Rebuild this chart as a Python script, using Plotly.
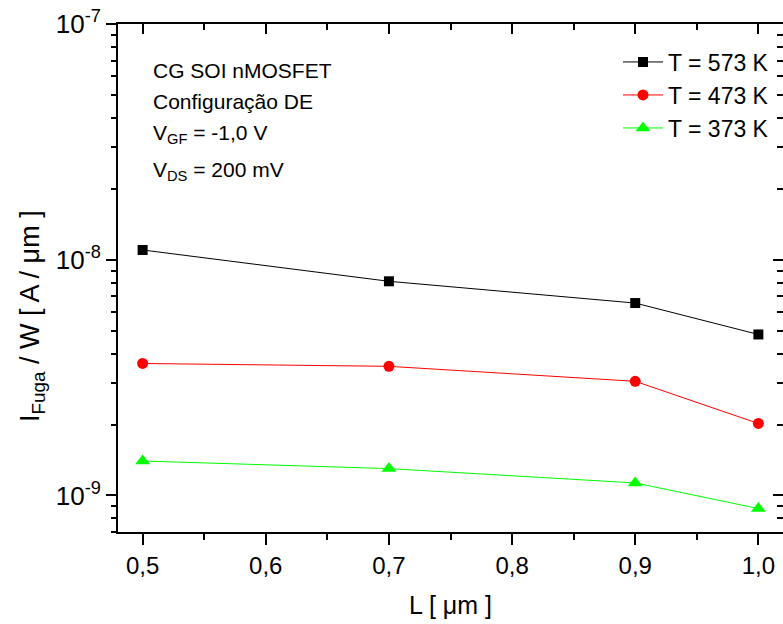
import plotly.graph_objects as go

# ---- data ----
L_um = [0.5, 0.7, 0.9, 1.0]
I_573 = [1.10e-8, 8.1e-9, 6.55e-9, 4.82e-9]
I_473 = [3.63e-9, 3.53e-9, 3.05e-9, 2.02e-9]
I_373 = [1.40e-9, 1.30e-9, 1.13e-9, 0.88e-9]
series_names = ["T = 573 K", "T = 473 K", "T = 373 K"]

x_tickvals = [0.5, 0.6, 0.7, 0.8, 0.9, 1.0]
x_ticktext = ["0,5", "0,6", "0,7", "0,8", "0,9", "1,0"]
x_minor = [0.55, 0.65, 0.75, 0.85, 0.95]
y_tickvals = [1e-9, 1e-8, 1e-7]
y_ticktext = ["10<sup>-9</sup>", "10<sup>-8</sup>", "10<sup>-7</sup>"]
y_minor = [7e-10, 8e-10, 9e-10] + [m * 1e-9 for m in range(2, 10)] + [m * 1e-8 for m in range(2, 10)]

FONT = "Liberation Sans, Arial, sans-serif"
W, H = 783, 624
ML, MR, MT, MB = 118, 0, 24, 92
PW, PH = W - ML - MR, H - MT - MB
xr = [0.48, 1.02]
yr = [-9.155, -7.0]

def px(x):
    return (x - ML) / PW

def py(y):
    return (H - MB - y) / PH

fig = go.Figure()
styles = [
    dict(color="#000000", symbol="square", size=10),
    dict(color="#ff0000", symbol="circle", size=11),
    dict(color="#00ff00", symbol="triangle-up", size=13),
]
for i, (vals, name, st) in enumerate(zip([I_573, I_473, I_373], series_names, styles)):
    fig.add_trace(go.Scatter(
        x=L_um, y=vals, name=name, mode="lines+markers",
        line=dict(color=st["color"], width=1),
        marker=dict(color=st["color"], symbol=st["symbol"], size=st["size"]),
        legend="legend" if i == 0 else f"legend{i+1}",
        showlegend=True,
    ))

# invisible carriers so the frame / minor-tick overlay axes get drawn
for xa, ya in [("x2", "y2"), ("x", "y3"), ("x", "y4")]:
    fig.add_trace(go.Scatter(x=L_um, y=I_573, xaxis=xa, yaxis=ya, mode="markers",
                             marker=dict(opacity=0), showlegend=False, hoverinfo="skip"))

ax = dict(showgrid=False, zeroline=False, linecolor="black", linewidth=2,
          tickcolor="black", tickwidth=1.5)

fig.update_layout(
    width=W, height=H,
    margin=dict(l=ML, r=MR, t=MT, b=MB),
    plot_bgcolor="white", paper_bgcolor="white",
    font=dict(family=FONT, size=22, color="black"),
    xaxis=dict(range=xr, tickvals=x_tickvals, ticktext=x_ticktext, ticks="outside",
               ticklen=11, showline=True,
               minor=dict(tickvals=x_minor, ticks="outside", ticklen=6, tickwidth=1.5, tickcolor="black"),
               tickfont=dict(size=24), **ax),
    yaxis=dict(type="log", range=yr, tickvals=y_tickvals, ticktext=y_ticktext, ticks="outside",
               ticklen=10, showline=True, tickfont=dict(size=26), **ax),
    xaxis2=dict(range=xr, overlaying="x", side="top", anchor="y2", tickvals=x_tickvals,
                ticks="inside", ticklen=10, showticklabels=False, showline=True,
                minor=dict(tickvals=x_minor, ticks="inside", ticklen=6, tickwidth=1.5, tickcolor="black"),
                **ax),
    yaxis2=dict(type="log", range=yr, overlaying="y", side="right", anchor="x2", tickvals=y_tickvals,
                ticks="inside", ticklen=10, showticklabels=False, showline=True, **ax),
    yaxis3=dict(type="log", range=yr, overlaying="y", side="left", anchor="x", tickvals=y_minor,
                ticks="outside", ticklen=6, showticklabels=False, showline=False, **ax),
    yaxis4=dict(type="log", range=yr, overlaying="y", side="right", anchor="x", tickvals=y_minor,
                ticks="inside", ticklen=6, showticklabels=False, showline=False, **ax),
)

leg = dict(xanchor="right", yanchor="middle", bgcolor="rgba(0,0,0,0)",
           font=dict(size=23), itemwidth=40)
fig.update_layout(
    showlegend=True,
    legend=dict(x=px(774), y=py(62), **leg),
    legend2=dict(x=px(774), y=py(95), **leg),
    legend3=dict(x=px(774), y=py(128), **leg),
)

notes = [
    ("CG SOI nMOSFET", 71),
    ("Configuração DE", 102),
    ("V<sub>GF</sub> = -1,0 V", 134),
    ("V<sub>DS</sub> = 200 mV", 171),
]
for txt, yy in notes:
    fig.add_annotation(text=txt, xref="paper", yref="paper", x=px(151), y=py(yy),
                       xanchor="left", yanchor="middle", showarrow=False,
                       font=dict(size=21, family=FONT))

# axis titles
fig.add_annotation(text="L [ μm ]", xref="paper", yref="paper", x=px(450), y=py(605),
                   xanchor="center", yanchor="middle", showarrow=False,
                   font=dict(size=25, family=FONT))
fig.add_annotation(text="I<sub>Fuga</sub> / W [ A / μm ]", xref="paper", yref="paper",
                   x=px(32), y=py(316), textangle=-90, xanchor="center", yanchor="middle",
                   showarrow=False, font=dict(size=27, family=FONT))

fig.write_html("out.html")
